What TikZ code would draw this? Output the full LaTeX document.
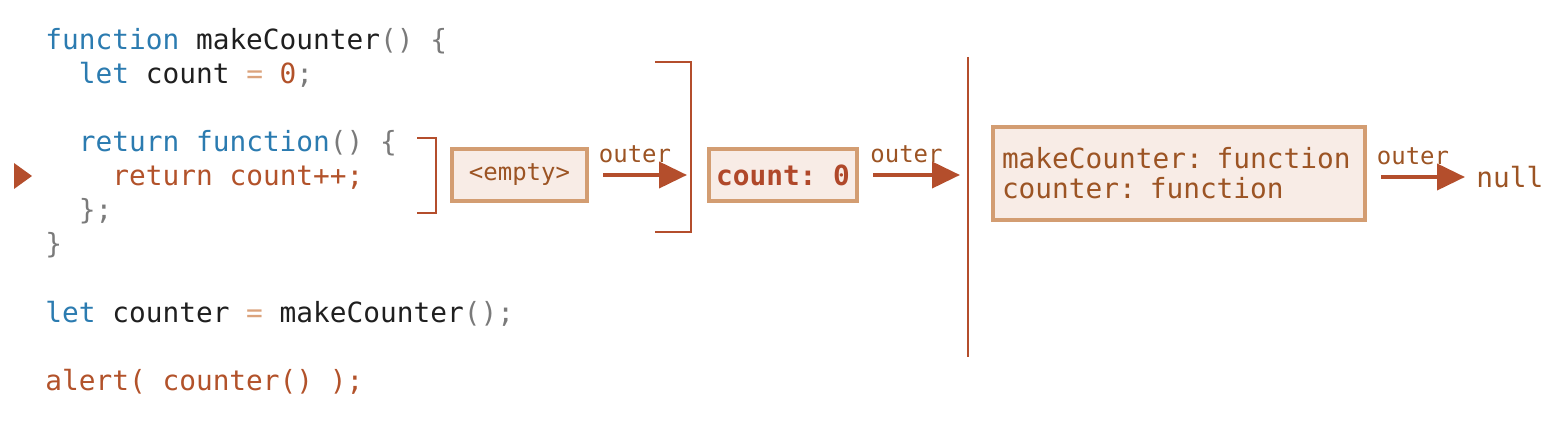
\documentclass[tikz,border=0pt]{standalone}
\usepackage{fontspec}
\setmonofont{DejaVu Sans Mono}
\usetikzlibrary{arrows.meta}

\definecolor{kwblue}{HTML}{2B7BB0}
\definecolor{punctgray}{HTML}{7A7A7A}
\definecolor{opsand}{HTML}{DBA37C}
\definecolor{codebrown}{HTML}{B2522A}
\definecolor{plainink}{HTML}{1F1F1F}
\definecolor{rust}{HTML}{B44E2C}
\definecolor{envedge}{HTML}{D39D72}
\definecolor{envfill}{HTML}{F8ECE6}
\definecolor{envtext}{HTML}{9C5424}
\definecolor{cntred}{HTML}{B0482A}

\newcommand{\kw}[1]{\textcolor{kwblue}{#1}}
\newcommand{\pn}[1]{\textcolor{punctgray}{#1}}
\newcommand{\op}[1]{\textcolor{opsand}{#1}}
\newcommand{\hl}[1]{\textcolor{codebrown}{#1}}

\begin{document}
\begin{tikzpicture}[x=0.5pt,y=-0.5pt,
  codeline/.style={anchor=base west,inner sep=0,text=plainink,
    font=\ttfamily\fontsize{13.9}{16}\selectfont},
  envbox/.style={draw=envedge,fill=envfill,line width=2pt,text=envtext,
    font=\ttfamily\fontsize{12}{14}\selectfont,minimum height=26pt},
  outerlbl/.style={midway,anchor=base,yshift=6.25pt,xshift=-1.5pt,text=envtext,
    font=\ttfamily\fontsize{12}{14}\selectfont},
  arr/.style={draw=rust,line width=2pt,-{Triangle[length=14pt,width=13pt]},
    shorten <=7pt},
  brk/.style={draw=rust,line width=1.1pt}]
\useasboundingbox (0,0) rectangle (1564,422);

% code
\node[codeline] (l1) at (45,50) {\kw{function} makeCounter\pn{()} \pn{\{}};
\node[codeline] (l2) at (78.5,84) {\kw{let} count \op{=} \hl{0}\pn{;}};
\node[codeline] (l4) at (78.5,152) {\kw{return} \kw{function}\pn{()} \pn{\{}};
\node[codeline] (l5) at (112,186) {\hl{return count++;}};
\node[codeline] (l6) at (78.5,220) {\pn{\};}};
\node[codeline] (l7) at (45,254) {\pn{\}}};
\node[codeline] (l9) at (45,322) {\kw{let} counter \op{=} makeCounter\pn{();}};
\node[codeline] (l11) at (45,390) {\hl{alert( counter() );}};
\fill[rust] (14,163) -- (32,176) -- (14,189) -- cycle;

% brackets
\draw[brk] (417,138) -- (436,138) -- (436,213) -- (417,213);
\draw[brk] (655,62) -- (691,62) -- (691,232) -- (655,232);
\draw[brk] (968,57) -- (968,357);

% environments
\node[envbox,minimum width=67.5pt] (empty) at (519.5,175) {<empty>};
\node[envbox,minimum width=74pt,text=cntred,font=\ttfamily\bfseries\fontsize{13.9}{16}\selectfont]
  (cnt) at (783,175) {count: 0};
\node[envbox,minimum height=46.5pt,text width=177pt,inner xsep=4.5pt,align=left,
  font=\ttfamily\fontsize{13.9}{15}\selectfont] (glob) at (1179,173.5)
  {makeCounter: function\\counter: function};
\node[anchor=west,inner xsep=5.5pt,text=envtext,font=\ttfamily\fontsize{13.9}{16}\selectfont]
  (nul) at (1465,177) {null};

\coordinate (tipa) at (687,175);
\coordinate (tipb) at (960,175);
\draw[arr] (empty.east) -- (tipa) node[outerlbl] {outer};
\draw[arr] (cnt.east) -- (tipb) node[outerlbl] {outer};
\draw[arr] (glob.east |- nul.west) -- (nul.west) node[outerlbl] {outer};
\end{tikzpicture}
\end{document}
